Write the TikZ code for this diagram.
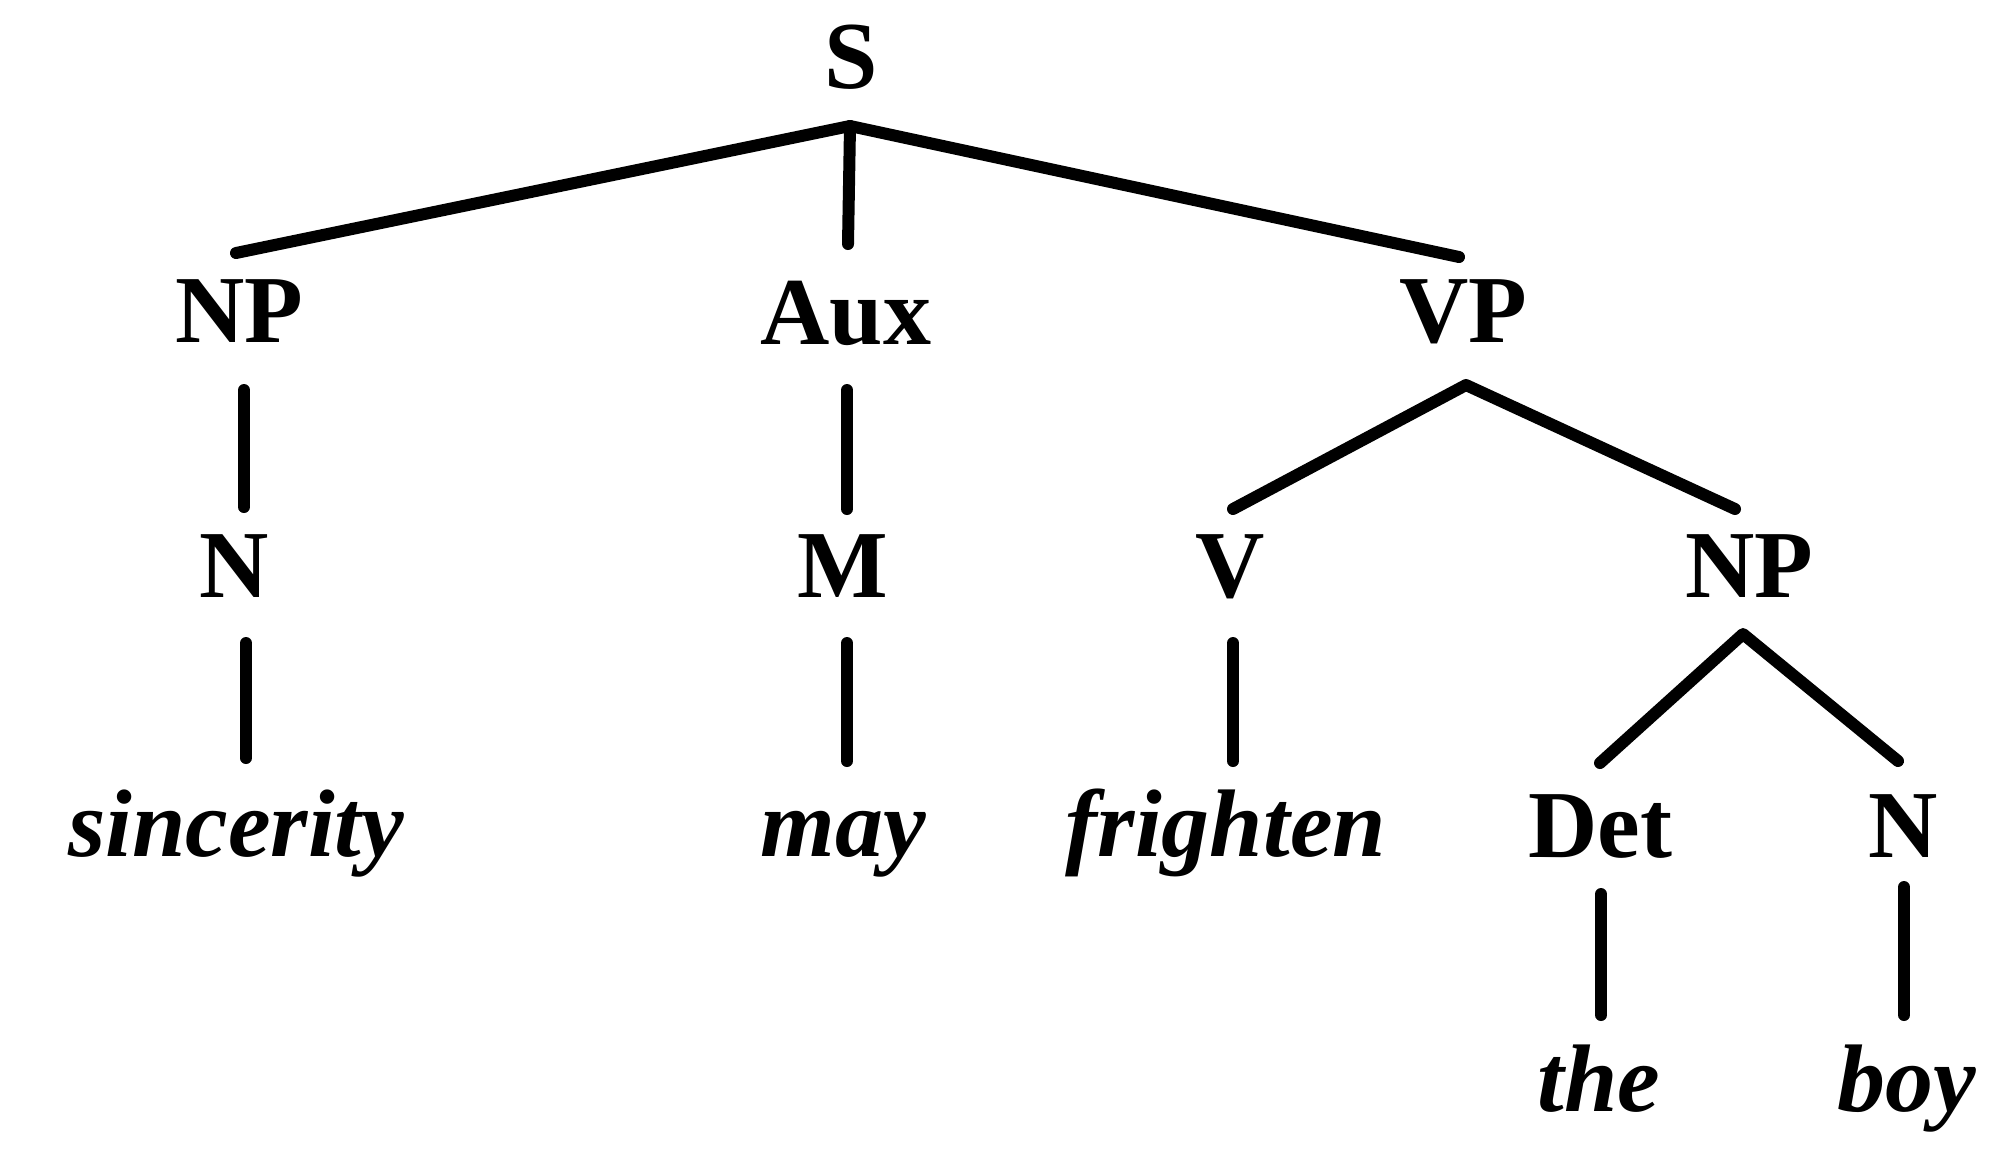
\documentclass[tikz,border=0pt]{standalone}
\usepackage{fontspec}
\setmainfont{Liberation Serif}
\begin{document}
\begin{tikzpicture}[x=1pt,y=-1pt,
  lab/.style={anchor=base,inner sep=0pt,font=\fontsize{96}{110}\selectfont\bfseries},
  word/.style={anchor=base,inner sep=0pt,font=\fontsize{96}{110}\selectfont\bfseries\itshape},
  edge/.style={line width=12pt,line cap=round,line join=round}]
\useasboundingbox (0,0) rectangle (2002,1160);
% nodes
\node[lab] (S) at (851,88) {S};
\node[lab] (NPa) at (239,342) {NP};
\node[lab] (Aux) at (846,344) {Aux};
\node[lab] (VP) at (1463,342) {VP};
\node[lab] (Na) at (234,597) {N};
\node[lab] (M) at (843,597) {M};
\node[lab] (V) at (1230,597) {V};
\node[lab] (NPb) at (1749,597) {NP};
\node[word] (sinc) at (236,856) {sincerity};
\node[word] (may) at (843,856) {may};
\node[word] (fri) at (1226,856) {frighten};
\node[lab] (Det) at (1600,857) {Det};
\node[lab] (Nb) at (1903,857) {N};
\node[word] (the) at (1599,1111) {the};
\node[word] (boy) at (1907,1111) {boy};
% connectors
\coordinate (Sapex) at ([xshift=-1pt,yshift=-38pt]S.base);
\draw[edge] ([xshift=-3pt,yshift=89pt]NPa.base) -- (Sapex) -- ([xshift=-4pt,yshift=85pt]VP.base);
\draw[edge] (Sapex) -- ([xshift=2pt,yshift=100pt]Aux.base);
\draw[edge] ([xshift=5pt,yshift=-48pt]NPa.base) -- ([xshift=10pt,yshift=90pt]Na.base);
\draw[edge] ([xshift=1pt,yshift=-46pt]Aux.base) -- ([xshift=4pt,yshift=88pt]M.base);
\coordinate (VPapex) at ([xshift=3pt,yshift=-43pt]VP.base);
\draw[edge] ([xshift=3pt,yshift=88pt]V.base) -- (VPapex) -- ([xshift=-14pt,yshift=88pt]NPb.base);
\draw[edge] ([xshift=12pt,yshift=-46pt]Na.base) -- ([xshift=10pt,yshift=98pt]sinc.base);
\draw[edge] ([xshift=4pt,yshift=-46pt]M.base) -- ([xshift=4pt,yshift=95pt]may.base);
\draw[edge] ([xshift=3pt,yshift=-46pt]V.base) -- ([xshift=7pt,yshift=95pt]fri.base);
\coordinate (NPapex) at ([xshift=-6pt,yshift=-37pt]NPb.base);
\draw[edge] ([xshift=0pt,yshift=94pt]Det.base) -- (NPapex) -- ([xshift=-5pt,yshift=96pt]Nb.base);
\draw[edge] ([xshift=1pt,yshift=-37pt]Det.base) -- ([xshift=2pt,yshift=96pt]the.base);
\draw[edge] ([xshift=1pt,yshift=-30pt]Nb.base) -- ([xshift=-3pt,yshift=96pt]boy.base);
\end{tikzpicture}
\end{document}
